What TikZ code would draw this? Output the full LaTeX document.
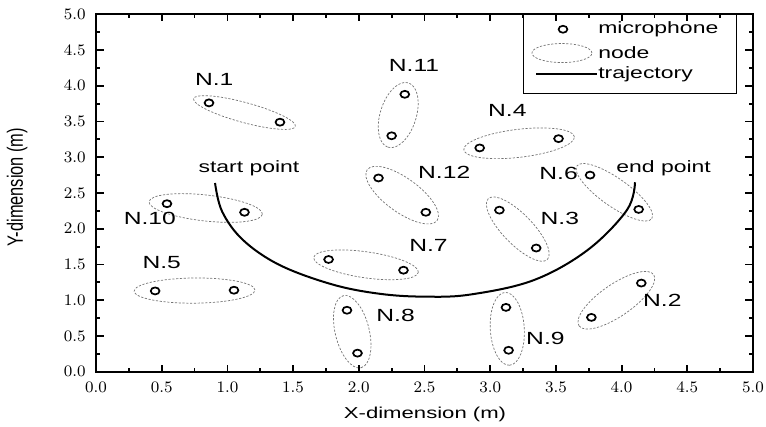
\documentclass[tikz,border=0pt]{standalone}
\usepackage{fontspec}
\setmainfont{Liberation Sans}[FakeStretch=1.4]
\newfontfamily\uprightsf{Liberation Sans}
\usetikzlibrary{calc,shapes.geometric}

\begin{document}
\begin{tikzpicture}[
    x=65.7pt, y=35.75pt,
    frame/.style={line width=1pt},
    tick/.style={line width=0.9pt},
    mic/.style={ellipse,draw,line width=0.85pt,inner sep=0pt,minimum width=4.4pt,minimum height=3.5pt},
    cluster/.style={ellipse,draw=black!55,line width=0.35pt,dash pattern=on 1.1pt off 0.8pt,inner sep=0pt},
    tag/.style={font=\fontsize{8.8}{10}\selectfont},
    ticklabel/.style={font=\fontsize{7.9}{9}\selectfont,inner sep=0pt},
    legendtext/.style={font=\fontsize{8.2}{10}\selectfont,anchor=west,inner sep=0pt},
    traj/.style={line width=1pt}
  ]
  \useasboundingbox (-0.7306,-0.7594) rectangle (5.099,5.199);

  % microphone pairs and the node ellipses round them
  \foreach \nm/\xa/\ya/\xb/\yb/\exlen/\semiw in {
      1/0.86/3.76/1.40/3.49/8/5,
      10/0.54/2.35/1.13/2.23/9/6.5,
      5/0.45/1.13/1.05/1.14/10.5/6.3,
      7/1.77/1.57/2.34/1.42/7.5/6.5,
      8/1.91/0.86/1.99/0.26/7.5/8.5,
      11/2.35/3.88/2.25/3.30/6/9,
      12/2.15/2.71/2.51/2.23/7/8.5,
      4/2.92/3.13/3.52/3.26/8/7,
      6/3.76/2.75/4.13/2.27/8/7,
      3/3.07/2.26/3.35/1.73/8/7.5,
      9/3.12/0.90/3.14/0.30/7.5/8.5,
      2/4.15/1.24/3.77/0.76/7.5/8}{
    \node[mic] (m\nm-1) at (\xa,\ya) {};
    \node[mic] (m\nm-2) at (\xb,\yb) {};
    \path let \p1=(m\nm-1), \p2=(m\nm-2),
      \n1={atan2(\y2-\y1,\x2-\x1)},
      \n2={veclen(\x2-\x1,\y2-\y1)/2+\exlen pt} in
      node[cluster,rotate=\n1,minimum width=2*\n2,minimum height=2*\semiw pt]
        (e\nm) at ($(m\nm-1)!0.5!(m\nm-2)$) {};
  }

  % node names
  \node[tag] (l1) at (0.90,4.09) {N.1};
  \node[tag] (l11) at (2.42,4.29) {N.11};
  \node[tag] (l4) at (3.13,3.66) {N.4};
  \node[tag] (l12) at (2.65,2.79) {N.12};
  \node[tag] (l6) at (3.52,2.78) {N.6};
  \node[tag] (l3) at (3.53,2.15) {N.3};
  \node[tag] (l7) at (2.53,1.76) {N.7};
  \node[tag] (l8) at (2.28,0.79) {N.8};
  \node[tag] (l9) at (3.42,0.46) {N.9};
  \node[tag] (l2) at (4.31,1.00) {N.2};
  \node[tag] (l10) at (0.41,2.15) {N.10};
  \node[tag] (l5) at (0.50,1.53) {N.5};

  % trajectory
  \coordinate (start) at (0.906,2.64);
  \coordinate (end) at (4.102,2.65);
  \draw[traj] plot[smooth,tension=0.6] coordinates {(start) (0.96,2.24) (1.12,1.84)
    (1.40,1.49) (1.80,1.22) (2.16,1.09) (2.50,1.05) (2.85,1.08) (3.33,1.28)
    (3.74,1.70) (4.04,2.26) (end)};
  \node[legendtext,anchor=base] (startlbl) at (1.164,2.78) {start point};
  \node[legendtext,anchor=base] (endlbl) at (4.32,2.78) {end point};

  % legend
  \draw[line width=0.5pt] (3.257,3.898) rectangle (4.878,5);
  \node[mic] (lgmic) at (3.554,4.79) {};
  \node[legendtext] (lgt1) at (3.82,4.79) {microphone};
  \node[cluster,minimum width=30pt,minimum height=9.5pt] (lgnode) at (3.546,4.457) {};
  \node[legendtext] (lgt2) at (3.82,4.457) {node};
  \coordinate (lga) at (3.349,4.16);
  \coordinate (lgb) at (3.813,4.16);
  \draw[traj] (lga) -- (lgb);
  \node[legendtext] (lgt3) at (3.82,4.16) {trajectory};

  % axes
  \foreach \v [count=\i] in {0,0.5,...,5}{
    \draw[tick] (\v,0) -- ++(0,3.3pt);
    \draw[tick] (\v,5) -- ++(0,-3.3pt);
    \draw[tick] (0,\v) -- ++(4pt,0);
    \draw[tick] (5,\v) -- ++(-4pt,0);
    \node[ticklabel] (xt\i) at (\v,-0.221) {\pgfmathprintnumber[fixed,fixed zerofill,precision=1]{\v}};
    \node[ticklabel,anchor=east] (yt\i) at (-0.076,\v) {\pgfmathprintnumber[fixed,fixed zerofill,precision=1]{\v}};
  }
  \foreach \v in {0.25,0.75,...,4.75}{
    \draw[tick] (\v,0) -- ++(0,1.8pt);
    \draw[tick] (\v,5) -- ++(0,-1.8pt);
    \draw[tick] (0,\v) -- ++(2.2pt,0);
    \draw[tick] (5,\v) -- ++(-2.2pt,0);
  }
  \draw[frame] (0,0) rectangle (5,5);
  \node[font=\fontsize{7.9}{9}\selectfont] (xtitle) at (2.504,-0.59) {X-dimension (m)};
  \node[font=\uprightsf\fontsize{8.2}{10}\selectfont,rotate=90] (ytitle) at (-0.601,2.58) {\scalebox{1}[1.35]{Y-dimension (m)}};
\end{tikzpicture}
\end{document}
